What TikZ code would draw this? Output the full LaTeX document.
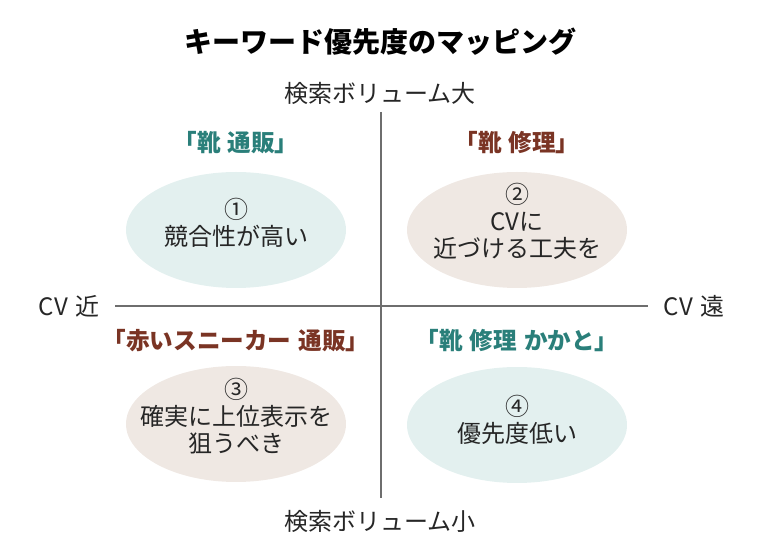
\documentclass[tikz,border=0pt]{standalone}
\usepackage{fontspec}
\setmainfont{Noto Sans CJK JP}
\usepackage{xcolor}
\usetikzlibrary{shapes.geometric, positioning}

\definecolor{kwteal}{HTML}{2A7F7A}
\definecolor{kwbrown}{HTML}{7A3424}
\definecolor{blobteal}{HTML}{E3F0EF}
\definecolor{blobbeige}{HTML}{EFE8E3}
\definecolor{axisgray}{HTML}{6E6E6E}

\tikzset{
  blob/.style={ellipse, minimum width=110pt, minimum height=58pt, inner sep=0pt},
  blobtext/.style={align=center, font=\fontsize{12}{13.5}\selectfont, text=black!85},
  keyword/.style={font=\fontsize{11.8}{13}\selectfont\bfseries},
  axislabel/.style={font=\fontsize{12}{14}\selectfont, text=black!85},
}

\begin{document}
\begin{tikzpicture}[x=0.5pt, y=-0.5pt]
  \useasboundingbox (0,0) rectangle (760,560);
  % title
  \node[font=\fontsize{14}{16}\selectfont\bfseries] (title) at (380,42) {キーワード優先度のマッピング};
  % axes
  \coordinate (top) at (381,112);
  \coordinate (bottom) at (381,498);
  \coordinate (left) at (115,306);
  \coordinate (right) at (648,306);
  \draw[axisgray, line width=0.6pt] (top) -- (bottom);
  \draw[axisgray, line width=0.6pt] (left) -- (right);
  \node[axislabel] (volhi) at (380,93) {検索ボリューム大};
  \node[axislabel] (vollo) at (380,521) {検索ボリューム小};
  \node[axislabel] (cvnear) at (69,306) {CV\hspace{0.3em}近};
  \node[axislabel] (cvfar) at (694,306) {CV\hspace{0.3em}遠};
  % quadrants
  \node[blob, fill=blobteal] (q1) at (236,230) {};
  \node[blob, fill=blobbeige] (q2) at (517,230) {};
  \node[blob, fill=blobbeige] (q3) at (236,424) {};
  \node[blob, fill=blobteal] (q4) at (517,425) {};
  \node[blobtext] (t1) at (236,223) {①\\競合性が高い};
  \node[blobtext] (t2) at (517,221) {②\\CVに\\近づける工夫を};
  \node[blobtext] (t3) at (236,416) {③\\確実に上位表示を\\狙うべき};
  \node[blobtext] (t4) at (517,420) {④\\優先度低い};
  \node[keyword, kwteal] (k1) at (236,143) {「靴\hspace{0.3em}通販」};
  \node[keyword, kwbrown] (k2) at (517,143) {「靴\hspace{0.3em}修理」};
  \node[keyword, kwbrown] (k3) at (236,341) {「赤いスニーカー\hspace{0.3em}通販」};
  \node[keyword, kwteal] (k4) at (517,341) {「靴\hspace{0.3em}修理\hspace{0.3em}かかと」};
\end{tikzpicture}
\end{document}
